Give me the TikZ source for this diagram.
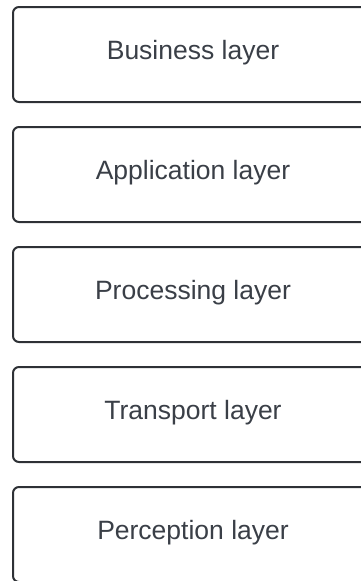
\documentclass[tikz,border=0pt]{standalone}
\usepackage{fontspec}
\setmainfont{Liberation Sans}
\definecolor{linec}{HTML}{2E3136}
\definecolor{textc}{HTML}{3A3F47}
\tikzset{layerbox/.style={draw=linec, line width=2pt, rounded corners=6pt, fill=white,
  minimum width=360pt, minimum height=95pt, inner sep=0pt},
  layertext/.style={text=textc, font=\fontsize{26.5pt}{30pt}\selectfont, inner sep=0pt}}
\begin{document}
\begin{tikzpicture}[x=1pt,y=-1pt]
\useasboundingbox (0,0) rectangle (360,581);
\node[layerbox] (b1) at (193,54.5) {};
\node[layerbox] (b2) at (193,174.5) {};
\node[layerbox] (b3) at (193,294.5) {};
\node[layerbox] (b4) at (193,414.5) {};
\node[layerbox] (b5) at (193,534.5) {};
\node[layertext] (t1) at ([yshift=2pt]b1.center) {Business layer};
\node[layertext] (t2) at ([yshift=2pt]b2.center) {Application layer};
\node[layertext] (t3) at ([yshift=2pt]b3.center) {Processing layer};
\node[layertext] (t4) at ([yshift=2pt]b4.center) {Transport layer};
\node[layertext] (t5) at ([yshift=2pt]b5.center) {Perception layer};
\end{tikzpicture}
\end{document}
